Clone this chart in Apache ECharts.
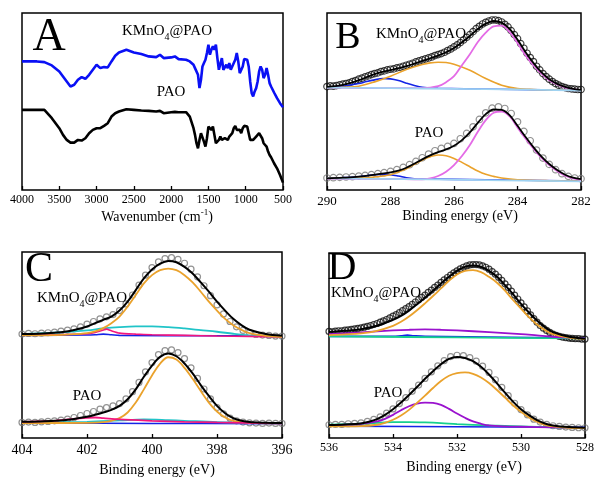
<!DOCTYPE html>
<html><head><meta charset="utf-8">
<script src="https://cdn.jsdelivr.net/npm/echarts@6/dist/echarts.min.js"></script>
<style>html,body{margin:0;padding:0;background:#fff}#c{width:597px;height:479px}</style>
</head><body><div id="c"></div>
<script>
// ---------- Panel A: FTIR ----------
const A_wn = [4000,3900,3800,3700,3600,3500,3450,3400,3350,3300,3250,3200,3150,3100,3050,3000,2950,2900,2850,2800,2750,2700,2600,2500,2400,2300,2200,2150,2100,2000,1950,1900,1800,1750,1700,1680,1660,1640,1620,1600,1580,1560,1540,1520,1500,1480,1460,1440,1420,1400,1380,1360,1340,1320,1300,1280,1260,1240,1220,1200,1180,1160,1140,1120,1100,1080,1060,1040,1020,1000,980,960,940,920,900,880,860,840,820,800,780,760,740,720,700,680,660,620,580,540,500];
const A_kmno4 = [385,385,385,383,373,355,340,325,310,315,330,338,333,345,360,375,365,368,367,385,402,412,420,412,407,400,398,405,395,397,400,392,390,385,375,365,370,345,305,330,370,380,390,410,435,405,420,430,420,435,395,360,365,395,360,355,375,365,380,360,365,380,390,410,385,350,345,370,392,397,390,370,325,290,280,295,305,325,355,370,360,335,345,365,345,320,310,292,275,260,248];
const A_pao = [240,240,240,240,215,185,165,150,142,142,150,148,155,170,180,185,185,192,200,220,230,235,242,240,238,237,235,237,230,233,234,233,233,220,185,165,140,125,150,170,165,145,130,155,190,190,180,190,165,140,145,150,160,150,145,155,150,150,160,155,170,185,192,180,175,180,170,185,192,195,190,170,150,145,150,155,160,165,170,170,155,140,142,130,115,105,98,80,65,45,22];

// ---------- Panel B: C 1s ----------
const B_up_data = [311,313,312,314,316,318,320,322,326,329,333,336,340,343,347,350,352,356,358,361,363,364,367,369,372,375,378,381,385,388,391,394,397,400,404,407,410,414,419,424,430,436,443,451,459,467,476,485,492,499,504,508,511,511,509,505,498,490,479,467,455,440,426,411,398,386,372,361,350,341,333,326,320,315,311,308,305,304,303,302,302];
const B_up_fit = [[290,310],[289.75,312],[289.5,316],[289.25,322],[289,330],[288.75,339],[288.5,348],[288.25,355],[288,360],[287.75,366],[287.5,372],[287.25,380],[287,388],[286.75,396],[286.5,404],[286.25,414],[286,427],[285.75,444],[285.5,463],[285.25,484],[285,500],[284.75,508],[284.5,503],[284.25,484],[284,452],[283.75,415],[283.5,382],[283.25,354],[283,333],[282.75,319],[282.5,310],[282.25,304],[282,301]];
const B_up_base = [[290,308],[288,306],[286,304],[284,302],[282,299]];
const B_up_blue = [[290,308],[289.5,312],[289,320],[288.75,326],[288.5,331],[288.25,335],[288,334],[287.75,329],[287.5,321],[287.25,314],[287,309],[286.5,306],[284,302],[282,299]];
const B_up_orange = [[290,308],[289.5,309],[289,312],[288.5,325],[288,342],[287.5,362],[287,377],[286.75,382],[286.5,384],[286.25,383],[286,378],[285.5,360],[285,335],[284.5,315],[284,305],[283.5,302],[283,301],[282,299]];
const B_up_mag = [[290,308],[287.5,306],[287,306],[286.5,312],[286.25,324],[286,342],[285.75,375],[285.5,408],[285.25,445],[285,473],[284.75,492],[284.5,494],[284.25,475],[284,442],[283.75,405],[283.5,375],[283.25,350],[283,330],[282.75,317],[282.5,308],[282.25,303],[282,300]];
const B_lo_data = [36,37,38,39,40,42,44,46,49,52,56,61,68,76,86,97,108,118,125,131,140,154,170,190,212,232,246,250,245,230,205,176,148,120,96,77,61,49,41,36,34];
const B_lo_fit = [[290,35],[289.5,37],[289,40],[288.5,46],[288,53],[287.75,58],[287.5,67],[287.25,79],[287,92],[286.75,104],[286.5,114],[286.25,122],[286,133],[285.75,150],[285.5,173],[285.25,202],[285,228],[284.75,242],[284.5,241],[284.25,225],[284,193],[283.75,160],[283.5,129],[283.25,101],[283,78],[282.75,60],[282.5,46],[282.25,37],[282,33]];
const B_lo_base = [[290,35],[286,31],[282,26]];
const B_lo_blue = [[290,35],[289.5,37],[289,40],[288.75,43],[288.5,46],[288.25,47],[288,46],[287.75,42],[287.5,37],[287.25,34],[287,33],[285,31],[282,27]];
const B_lo_orange = [[290,35],[289,36],[288.5,39],[288,46],[287.75,54],[287.5,64],[287.25,77],[287,90],[286.75,100],[286.5,105],[286.25,103],[286,95],[285.75,83],[285.5,70],[285.25,57],[285,47],[284.75,41],[284.5,36],[284,31],[283,28],[282,27]];
const B_lo_mag = [[290,34],[288,33],[287,32],[286.75,35],[286.5,42],[286.25,55],[286,75],[285.75,102],[285.5,135],[285.25,175],[285,210],[284.75,232],[284.5,236],[284.25,222],[284,188],[283.75,155],[283.5,125],[283.25,97],[283,75],[282.75,57],[282.5,43],[282.25,35],[282,30]];

// ---------- Panel C: N 1s ----------
const C_up_data = [314,316,315,317,318,320,323,326,330,336,344,352,360,366,373,385,405,432,462,492,515,532,542,545,540,528,510,487,460,430,402,375,352,336,325,318,313,311,310,308,308];
const C_up_fit = [[404,314],[403.5,315],[403,318],[402.5,324],[402,337],[401.75,347],[401.5,357],[401.25,367],[401,385],[400.75,412],[400.5,447],[400.25,482],[400,509],[399.75,527],[399.5,535],[399.25,531],[399,517],[398.75,497],[398.5,470],[398.25,442],[398,412],[397.75,385],[397.5,360],[397.25,341],[397,327],[396.5,314],[396,309]];
const C_up_orange = [[404,310],[403,311],[402.5,313],[402,317],[401.75,322],[401.5,332],[401.25,347],[401,367],[400.75,397],[400.5,432],[400.25,467],[400,492],[399.75,507],[399.5,512],[399.25,507],[399,492],[398.75,470],[398.5,442],[398.25,412],[398,385],[397.75,360],[397.5,341],[397.25,327],[397,317],[396.5,309],[396,306]];
const C_up_cyan = [[404,314],[403,318],[402,325],[401.5,331],[401,335],[400.5,337],[400,337],[399.5,335],[399,331],[398.5,326],[398,321],[397.5,315],[397,310],[396.5,307],[396,306]];
const C_up_pink = [[404,311],[403,312],[402,315],[401.75,319],[401.5,326],[401.4,329],[401.25,324],[401,317],[400.5,314],[400,312],[399,310],[398,308],[397,307],[396,305]];
const C_up_blue = [[404,310],[402,311],[401.75,312],[401.5,314],[401.25,312],[401,310],[398,309],[396,308]];
const C_lo_data = [47,48,47,49,50,52,54,57,62,68,74,80,87,92,97,104,118,140,168,200,228,252,264,266,258,240,212,180,148,118,92,73,60,52,48,46,45,44,45,44,44];
const C_lo_fit = [[404,49],[403.5,50],[403,52],[402.5,56],[402,64],[401.75,70],[401.5,77],[401.25,85],[401,97],[400.75,117],[400.5,147],[400.25,185],[400,219],[399.75,245],[399.5,255],[399.25,247],[399,225],[398.75,195],[398.5,160],[398.25,127],[398,97],[397.75,75],[397.5,60],[397.25,52],[397,48],[396.5,46],[396,45]];
const C_lo_orange = [[404,45],[402,46],[401.5,48],[401.25,52],[401,60],[400.75,77],[400.5,107],[400.25,147],[400,189],[399.75,225],[399.5,244],[399.25,237],[399,212],[398.75,179],[398.5,142],[398.25,107],[398,80],[397.75,62],[397.5,52],[397,46],[396,44]];
const C_lo_pink = [[404,49],[403,52],[402.5,57],[402,61],[401.75,62],[401.5,60],[401,56],[400,52],[399,49],[398,47],[396,44]];
const C_lo_cyan = [[404,46],[402,49],[401,53],[400.25,56],[399.5,54],[399,52],[398,48],[397,46],[396,44]];
const C_lo_blue = [[404,45],[400,44],[396,43]];

// ---------- Panel D: O 1s ----------
const D_up_data = [322,321,323,324,324,326,327,328,330,331,333,335,337,340,343,346,350,354,358,363,368,373,379,385,391,397,404,411,418,425,432,440,447,455,462,470,478,485,492,499,505,511,516,520,523,524,524,523,520,516,510,503,495,486,476,466,455,444,432,420,408,396,384,372,361,350,340,332,325,319,314,310,307,305,303,302,301,300,300,299,299];
const D_up_fit = [[536,320],[535.5,324],[535,329],[534.5,339],[534,357],[533.75,369],[533.5,385],[533.25,404],[533,424],[532.75,445],[532.5,467],[532.25,487],[532,505],[531.75,517],[531.5,521],[531.25,517],[531,505],[530.75,487],[530.5,462],[530.25,435],[530,405],[529.75,379],[529.5,355],[529.25,335],[529,320],[528.5,306],[528,300]];
const D_up_orange = [[536,311],[535.5,313],[535,316],[534.5,324],[534,339],[533.75,351],[533.5,367],[533.25,386],[533,407],[532.75,429],[532.5,452],[532.25,475],[532,494],[531.75,505],[531.5,507],[531.25,501],[531,487],[530.75,469],[530.5,445],[530.25,417],[530,391],[529.75,365],[529.5,343],[529.25,326],[529,314],[528.5,303],[528,299]];
const D_up_purple = [[536,314],[535,319],[534,325],[533.5,327],[533,328],[532.5,327],[532,325],[531,320],[530,314],[529.5,310],[529,306],[528.5,303],[528,301]];
const D_up_green = [[536,307],[532,304],[528,301]];
const D_up_blue = [[536,307],[534,307],[533.75,309],[533.55,311],[533.35,309],[533,307],[528,302]];
const D_lo_data = [40,41,41,43,44,46,50,56,64,75,88,104,122,141,160,180,200,218,234,246,250,249,243,232,217,198,176,153,128,105,86,70,57,48,41,37,35,33,32,31,31];
const D_lo_fit = [[536,39],[535.5,41],[535,44],[534.75,49],[534.5,57],[534.25,70],[534,87],[533.75,107],[533.5,130],[533.25,154],[533,179],[532.75,202],[532.5,223],[532.25,239],[532,245],[531.75,242],[531.5,232],[531.25,215],[531,192],[530.75,165],[530.5,137],[530.25,110],[530,87],[529.75,69],[529.5,54],[529.25,44],[529,38],[528.5,33],[528,31]];
const D_lo_orange = [[536,35],[535,36],[534.5,40],[534.25,46],[534,55],[533.75,68],[533.5,85],[533.25,106],[533,128],[532.75,151],[532.5,172],[532.25,188],[532,196],[531.75,198],[531.5,194],[531.25,183],[531,166],[530.75,145],[530.5,122],[530.25,99],[530,79],[529.75,62],[529.5,49],[529.25,40],[529,35],[528.5,31],[528,30]];
const D_lo_purple = [[536,38],[535.5,40],[535,43],[534.5,50],[534.25,58],[534,70],[533.75,84],[533.5,96],[533.25,104],[533,107],[532.75,106],[532.5,100],[532.25,88],[532,74],[531.75,61],[531.5,50],[531.25,43],[531,38],[530.5,35],[530,34],[529,32],[528,30]];
const D_lo_green = [[536,40],[535,43],[534.5,46],[534,48],[533.5,48],[533,47],[532.5,45],[532,42],[531,38],[530,35],[529,32],[528,30]];
const D_lo_blue = [[536,36],[532,34],[528,32]];

// ---------- helpers ----------
const SERIF = "'Liberation Serif','Times New Roman',serif";
function energies(start, step, n){ const a=[]; for(let i=0;i<n;i++) a.push(+(start - i*step).toFixed(3)); return a; }
function zip(xs, ys){ return ys.map((y,i)=>[xs[i], y]); }

const COL = {orange:'#EAA22C', mag:'#E46BE6', lblue:'#9FD3F2', blue:'#1424E6', cyan:'#20C4C8', pink:'#F3167E', purple:'#9A12CE', green:'#16D08E'};

const series = [];
function line(g, data, color, w, z, smooth){
  series.push({type:'line', xAxisIndex:g, yAxisIndex:g, data, showSymbol:false, smooth: smooth===undefined?0.35:smooth,
    lineStyle:{color, width:w}, z, silent:true});
}
function dots(g, data, color, size){
  series.push({type:'scatter', xAxisIndex:g, yAxisIndex:g, data, symbol:'circle', symbolSize:size,
    itemStyle:{color:'rgba(255,255,255,0)', borderColor:color, borderWidth:1.2}, z:1, silent:true});
}

// A
line(0, zip(A_wn, A_kmno4), '#0A10F5', 2.6, 3, false);
line(0, zip(A_wn, A_pao), '#000', 2.6, 3, false);
// B
dots(1, zip(energies(290,0.1,81), B_up_data), '#111', 6.5);
line(1, B_up_blue, COL.blue, 1.6, 2);
line(1, B_up_orange, COL.orange, 1.6, 2);
line(1, B_up_mag, COL.mag, 1.8, 2);
line(1, B_up_base, COL.lblue, 1.8, 2);
line(1, B_up_fit, '#000', 1.8, 3);
dots(1, zip(energies(290,0.2,41), B_lo_data), '#777', 6.5);
line(1, B_lo_blue, COL.blue, 1.6, 2);
line(1, B_lo_orange, COL.orange, 1.6, 2);
line(1, B_lo_mag, COL.mag, 1.8, 2);
line(1, B_lo_base, COL.lblue, 1.8, 2);
line(1, B_lo_fit, '#000', 1.8, 3);
// C
dots(2, zip(energies(404,0.2,41), C_up_data), '#777', 6);
line(2, C_up_blue, COL.blue, 1.6, 2);
line(2, C_up_cyan, COL.cyan, 1.8, 2);
line(2, C_up_pink, COL.pink, 1.6, 2, 0.2);
line(2, C_up_orange, COL.orange, 1.8, 2);
line(2, C_up_fit, '#000', 2, 3);
dots(2, zip(energies(404,0.2,41), C_lo_data), '#777', 6);
line(2, C_lo_blue, COL.blue, 1.6, 2);
line(2, C_lo_cyan, COL.cyan, 1.8, 2);
line(2, C_lo_orange, COL.orange, 1.8, 2);
line(2, C_lo_pink, COL.pink, 1.8, 2);
line(2, C_lo_fit, '#000', 2, 3);
// D
dots(3, zip(energies(536,0.1,81), D_up_data), '#111', 6);
line(3, D_up_blue, COL.blue, 1.6, 2);
line(3, D_up_green, COL.green, 1.8, 2);
line(3, D_up_purple, COL.purple, 1.8, 2);
line(3, D_up_orange, COL.orange, 1.8, 2);
line(3, D_up_fit, '#000', 2, 3);
dots(3, zip(energies(536,0.2,41), D_lo_data), '#777', 6);
line(3, D_lo_blue, COL.blue, 1.6, 2);
line(3, D_lo_green, COL.green, 1.8, 2);
line(3, D_lo_purple, COL.purple, 1.8, 2);
line(3, D_lo_orange, COL.orange, 1.8, 2);
line(3, D_lo_fit, '#000', 2, 3);

const grids = [
  {left:22, top:13, width:261, height:177},
  {left:327, top:13, width:254, height:177},
  {left:22, top:252, width:260, height:186},
  {left:329, top:253, width:258, height:185}
].map(g=>Object.assign({show:true, borderColor:'#000', borderWidth:1.5, backgroundColor:'transparent'}, g));

function xa(g, min, max, interval, fs, margin){
  return {gridIndex:g, type:'value', inverse:true, min, max, interval,
    axisLine:{show:false}, splitLine:{show:false},
    axisTick:{show:true, inside:true, length:4, lineStyle:{color:'#000', width:1.3}},
    axisLabel:{color:'#000', fontFamily:SERIF, fontSize:fs, margin, showMinLabel:true, showMaxLabel:true,
      formatter:(v)=>String(v)}};
}
function ya(g, max){ return {gridIndex:g, type:'value', min:0, max, show:false, splitLine:{show:false}}; }

function lab(x, y, fs){
  return {type:'text', x, y, z:10, style:{text:'{a|KMnO}{s|4}{a|@PAO}', align:'center', verticalAlign:'middle',
    rich:{a:{fontFamily:SERIF, fontSize:fs, color:'#000', lineHeight:22, verticalAlign:'middle'},
          s:{fontFamily:SERIF, fontSize:Math.round(fs*0.65), color:'#000', lineHeight:22, verticalAlign:'bottom'}}}};
}
function txt(x, y, s, fs){
  return {type:'text', x, y, z:10, style:{text:s, align:'center', verticalAlign:'middle', fontFamily:SERIF, fontSize:fs, fill:'#000'}};
}

const graphics = [
  txt(49, 38, 'A', 46), txt(348, 38, 'B', 38), txt(39, 270, 'C', 42), txt(342, 268, 'D', 40),
  lab(167, 31, 15), txt(171, 92, 'PAO', 15),
  lab(421, 34, 15), txt(429, 133, 'PAO', 15),
  lab(82, 298, 15), txt(87, 396, 'PAO', 15),
  lab(376, 293, 15), txt(388, 393, 'PAO', 15),
  {type:'text', x:157, y:217, z:10, style:{text:'{a|Wavenumber (cm}{s|-1}{a|)}', align:'center', verticalAlign:'middle',
    rich:{a:{fontFamily:SERIF, fontSize:14, color:'#000', lineHeight:18, verticalAlign:'middle'},
          s:{fontFamily:SERIF, fontSize:9, color:'#000', lineHeight:18, verticalAlign:'top'}}}},
  txt(460, 216, 'Binding energy (eV)', 14),
  txt(157, 470, 'Binding energy (eV)', 14),
  txt(464, 467, 'Binding energy (eV)', 14)
];

const chart = echarts.init(document.getElementById('c'), null, {renderer:'canvas'});
chart.setOption({
  animation:false, backgroundColor:'#fff',
  grid: grids,
  xAxis:[xa(0,500,4000,500,12,4), xa(1,282,290,2,13,5), xa(2,396,404,2,14,5), xa(3,528,536,2,12,4)],
  yAxis:[ya(0,530), ya(1,532), ya(2,562), ya(3,559)],
  series, graphic: graphics
});
</script></body></html>
